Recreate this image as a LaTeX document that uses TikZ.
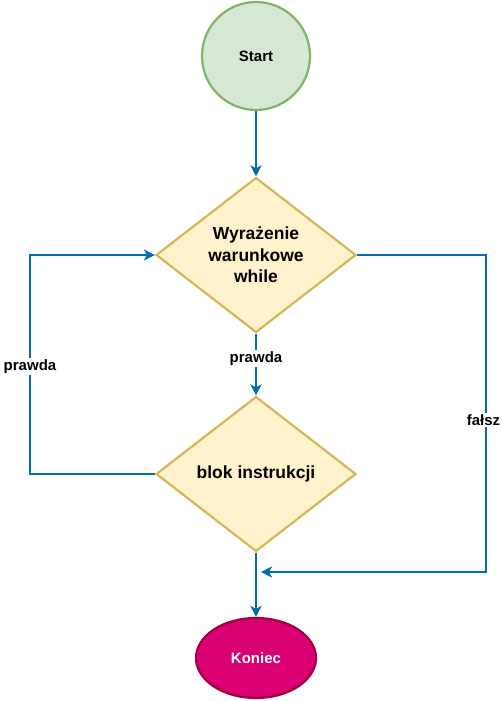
\documentclass[tikz,border=0pt]{standalone}
\usepackage{fontspec}
\setmainfont{Liberation Sans}
\usetikzlibrary{shapes.geometric,arrows.meta}
\definecolor{gfill}{HTML}{D5E8D4}
\definecolor{gline}{HTML}{82B366}
\definecolor{yfill}{HTML}{FFF2CC}
\definecolor{yline}{HTML}{D6B656}
\definecolor{mfill}{HTML}{D80073}
\definecolor{mline}{HTML}{A50040}
\definecolor{bline}{HTML}{006EAF}
\tikzset{
  startbox/.style={circle,draw=gline,fill=gfill,line width=2.2pt,minimum size=108pt,inner sep=0pt,font=\fontsize{15}{18}\selectfont\bfseries},
  decbox/.style={diamond,draw=yline,fill=yfill,line width=2.2pt,minimum width=200pt,minimum height=155pt,inner sep=0pt,aspect=1.29,align=center,font=\fontsize{17.5}{21.5}\selectfont\bfseries},
  endbox/.style={ellipse,draw=mline,fill=mfill,line width=2.2pt,minimum width=120pt,minimum height=80pt,inner sep=0pt,text=white,font=\fontsize{15}{18}\selectfont\bfseries},
  conn/.style={draw=bline,line width=2.2pt,-{Stealth[length=11pt,width=11pt,inset=3pt]}},
  lbl/.style={fill=white,inner sep=1.5pt,font=\fontsize{15}{18}\selectfont\bfseries}
}
\begin{document}
\begin{tikzpicture}[x=1pt,y=-1pt]
\useasboundingbox (0,0) rectangle (502,701);
\node[startbox] (start) at (256,56) {Start};
\node[decbox] (cond) at (256,255) {Wyrażenie\\warunkowe\\while};
\node[decbox] (blok) at (256,474) {blok instrukcji};
\node[endbox] (end) at (256,658) {Koniec};
\coordinate (jn) at (256,572);
\coordinate (lt) at (30,255);
\coordinate (lb) at (30,474);
\coordinate (rt) at (486,255);
\coordinate (rb) at (486,572);
\draw[conn] (start) -- (cond);
\draw[conn] (cond) -- node[lbl,pos=0.4] {prawda} (blok);
\draw[conn] (blok) -- (end);
\draw[conn] (blok.west) -- (lb) -- node[lbl,pos=0.49] {prawda} (lt) -- (cond.west);
\draw[conn,shorten >=5pt] (cond.east) -- (rt) -- node[lbl,pos=0.52,xshift=-2.5pt,inner xsep=0.5pt] {fałsz} (rb) -- (jn);
\end{tikzpicture}
\end{document}
